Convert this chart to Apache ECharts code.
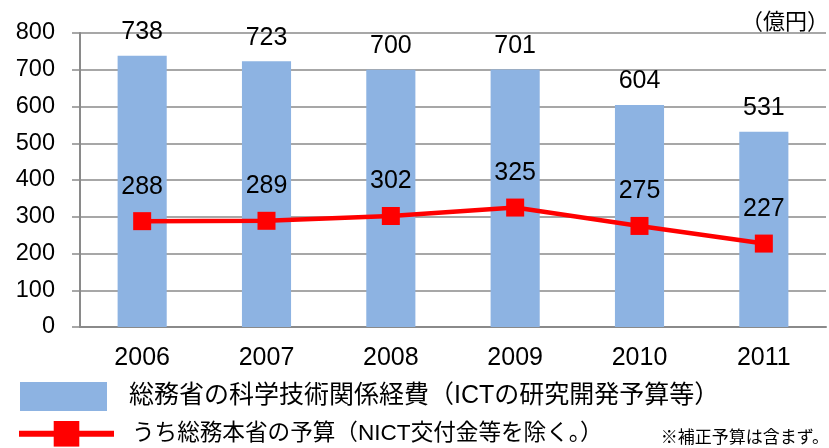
<!DOCTYPE html>
<html>
<head>
<meta charset="utf-8">
<script src="https://cdn.jsdelivr.net/npm/echarts@6/dist/echarts.min.js"></script>
<style>
html,body{margin:0;padding:0;background:#fff;}
#chart{width:829px;height:448px;}
</style>
</head>
<body>
<div id="chart"></div>
<script>
const categories = ['2006', '2007', '2008', '2009', '2010', '2011'];
const barValues = [738, 723, 700, 701, 604, 531];
const lineValues = [288, 289, 302, 325, 275, 227];
const barName = '総務省の科学技術関係経費（ICTの研究開発予算等）';
const lineName = 'うち総務本省の予算（NICT交付金等を除く。）';
const unitText = '（億円）';
const noteText = '※補正予算は含まず。';

const FONT = "'Liberation Sans', 'Noto Sans CJK JP', sans-serif";
const chart = echarts.init(document.getElementById('chart'), null, {renderer: 'canvas'});
chart.setOption({
  animation: false,
  backgroundColor: '#ffffff',
  textStyle: {fontFamily: FONT},
  grid: {left: 80, right: 3, top: 33, bottom: 121, containLabel: false},
  xAxis: {
    type: 'category',
    data: categories,
    axisLine: {show: true, lineStyle: {color: '#8a8a8a', width: 2}},
    axisTick: {show: false},
    axisLabel: {color: '#000', fontSize: 25, margin: 19, fontFamily: FONT}
  },
  yAxis: {
    type: 'value',
    min: 0, max: 800, interval: 100,
    axisLine: {show: true, lineStyle: {color: '#8a8a8a', width: 2}},
    axisTick: {show: true, length: 8, lineStyle: {color: '#8a8a8a', width: 1.5}},
    axisLabel: {color: '#000', fontSize: 23.5, margin: 25, fontFamily: FONT},
    splitLine: {show: true, lineStyle: {color: '#8a8a8a', width: 1.5}}
  },
  legend: [
    {
      data: [{name: barName, icon: 'rect'}],
      left: 20, top: 382, padding: 0,
      itemWidth: 87, itemHeight: 29,
      selectedMode: false,
      textStyle: {color: '#000', fontSize: 25, fontFamily: FONT, padding: [0, 0, 0, 17]}
    },
    {
      data: [lineName],
      left: 16, top: 421, padding: 0,
      itemWidth: 95, itemHeight: 32,
      selectedMode: false,
      lineStyle: {width: 6},
      textStyle: {color: '#000', fontSize: 22.6, fontFamily: FONT, padding: [0, 0, 0, 13]}
    }
  ],
  graphic: [
    {type: 'text', right: 0, top: 10, style: {text: unitText, font: "22px 'Noto Sans CJK JP'", fill: '#000'}},
    {type: 'text', right: 0, top: 428, style: {text: noteText, font: "17px 'Noto Sans CJK JP'", fill: '#000'}}
  ],
  series: [
    {
      name: barName,
      type: 'bar',
      data: barValues,
      barWidth: '39.5%',
      itemStyle: {color: '#8DB3E2'},
      label: {show: true, position: 'top', distance: 11, color: '#000', fontSize: 25, fontFamily: FONT}
    },
    {
      name: lineName,
      type: 'line',
      data: lineValues,
      symbol: 'rect',
      symbolSize: 18,
      lineStyle: {color: '#FF0000', width: 4.5},
      itemStyle: {color: '#FF0000'},
      label: {show: true, position: 'top', distance: 13, color: '#000', fontSize: 25, fontFamily: FONT},
      z: 5
    }
  ]
});
</script>
</body>
</html>
